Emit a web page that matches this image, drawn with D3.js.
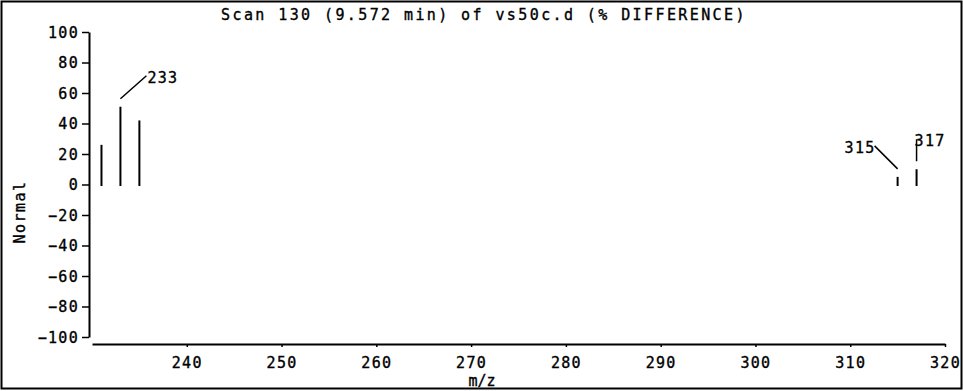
<!DOCTYPE html>
<html>
<head>
<meta charset="utf-8">
<script src="https://cdn.jsdelivr.net/npm/d3@7"></script>
<style>
  html, body { margin: 0; padding: 0; background: #fff; }
  svg text { font-family: 'DejaVu Sans Mono', monospace; font-size: 15px; fill: #000; stroke: #000; stroke-width: 0.35px; }
</style>
</head>
<body>
<div class="chart-container"></div>
<script>
'use strict';

// spectrum peaks (m/z, % difference)
var mzValues = [231, 233, 235, 315, 317];
var abundance = [26, 51, 42, 5, 10];

// peaks that carry a label, and which side the label sits
var labelledMz = [233, 315, 317];
var labelSide = ['right', 'left', 'up'];

var xTicks = [240, 250, 260, 270, 280, 290, 300, 310, 320];
var yTicks = [-100, -80, -60, -40, -20, 0, 20, 40, 60, 80, 100];

var titleText = 'Scan 130 (9.572 min) of vs50c.d (% DIFFERENCE)';
var xTitle = 'm/z';
var yTitle = 'Normal';

var width = 963, height = 391;

var svg = d3.select('.chart-container')
    .append('svg')
    .attr('width', width)
    .attr('height', height);

// outer frame
svg.append('rect')
    .attr('x', 1.5).attr('y', 1.5)
    .attr('width', width - 3).attr('height', height - 4)
    .attr('fill', 'none')
    .attr('stroke', '#000')
    .attr('stroke-width', 2);

var x = d3.scaleLinear().domain([230, 320]).range([92, 945]);
var y = d3.scaleLinear().domain([-100, 100]).range([337, 32]);

svg.append('text')
    .attr('x', 484).attr('y', 20)
    .style('text-anchor', 'middle')
    .style('letter-spacing', '2.4px')
    .text(titleText);

// y axis
var yAxis = svg.append('g')
    .attr('transform', 'translate(89,0)')
    .call(d3.axisLeft(y).tickValues(yTicks).tickSize(7).tickSizeOuter(0).tickPadding(3));
yAxis.select('.domain').attr('stroke-width', 2);
yAxis.selectAll('.tick line').attr('stroke-width', 1.5);
yAxis.selectAll('.tick text')
    .style('font-family', "'DejaVu Sans Mono', monospace")
    .style('font-size', '15px')
    .style('letter-spacing', '1.3px')
    .attr('dy', '0.36em');

// x axis
var xAxis = svg.append('g')
    .attr('transform', 'translate(0,344)')
    .call(d3.axisBottom(x).tickValues(xTicks).tickSize(3).tickSizeOuter(0).tickPadding(10));
xAxis.select('.domain').attr('stroke-width', 2);
xAxis.selectAll('.tick line').attr('stroke-width', 1.5);
xAxis.selectAll('.tick text')
    .style('font-family', "'DejaVu Sans Mono', monospace")
    .style('font-size', '15px')
    .style('letter-spacing', '1.3px');

svg.append('text')
    .attr('x', 482).attr('y', 386)
    .style('text-anchor', 'middle')
    .text(xTitle);

svg.append('text')
    .attr('transform', 'translate(25,212) rotate(-90)')
    .style('text-anchor', 'middle')
    .style('letter-spacing', '1.5px')
    .text(yTitle);

// peaks
var peaks = mzValues.map(function(mz, i) { return { mz: mz, v: abundance[i] }; });

svg.selectAll('line.peak')
    .data(peaks)
    .enter()
    .append('line')
    .attr('class', 'peak')
    .attr('x1', function(d) { return x(d.mz); })
    .attr('x2', function(d) { return x(d.mz); })
    .attr('y1', y(0) + 1.5)
    .attr('y2', function(d) { return y(d.v); })
    .attr('stroke', '#000')
    .attr('stroke-width', 2);

// peak labels with leader lines
var labels = labelledMz.map(function(mz, i) {
    var k = mzValues.indexOf(mz);
    return { mz: mz, v: abundance[k], side: labelSide[i] };
});

function leader(d) {
    var px = x(d.mz), py = y(d.v) - 8;
    if (d.side === 'right') { return [[px, py], [px + 26, py - 23]]; }
    if (d.side === 'left') { return [[px, py], [px - 23, py - 23]]; }
    return [[px, py], [px, py - 22]];
}

svg.selectAll('path.leader')
    .data(labels)
    .enter()
    .append('path')
    .attr('class', 'leader')
    .attr('d', function(d) { return d3.line()(leader(d)); })
    .attr('fill', 'none')
    .attr('stroke', '#000')
    .attr('stroke-width', 1.5);

svg.selectAll('text.peak-label')
    .data(labels)
    .enter()
    .append('text')
    .attr('class', 'peak-label')
    .style('letter-spacing', '1.3px')
    .style('text-anchor', function(d) { return d.side === 'left' ? 'end' : 'start'; })
    .attr('x', function(d) {
        var p = leader(d)[1];
        return d.side === 'up' ? p[0] - 2 : p[0] + 1;
    })
    .attr('y', function(d) { return leader(d)[1][1] + 7; })
    .text(function(d) { return d.mz; });
</script>
</body>
</html>
